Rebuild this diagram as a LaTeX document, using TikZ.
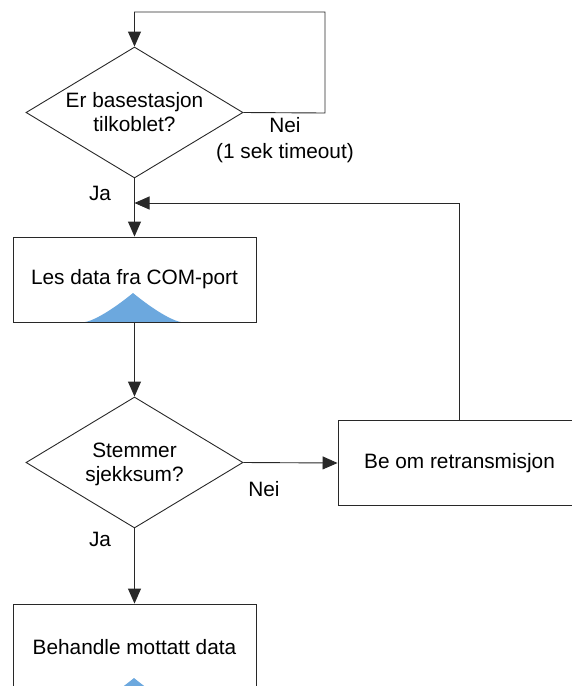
\documentclass[tikz,border=0pt]{standalone}
\usepackage{fontspec}
\setmainfont{Liberation Sans}
\usetikzlibrary{shapes.geometric,arrows.meta}
\definecolor{moundblue}{RGB}{108,168,222}
\definecolor{linegray}{RGB}{40,40,40}
\begin{document}
\begin{tikzpicture}[x=1pt,y=-1pt,
  flow/.style={draw=linegray, line width=0.9pt},
  arr/.style={flow,-{Triangle[length=15pt,width=13pt]}},
  decision/.style={draw=linegray, line width=0.9pt, shape=diamond, aspect=1.66,
    minimum width=217pt, minimum height=131pt, inner sep=0pt},
  stepbox/.style={draw=linegray, line width=0.9pt, rectangle,
    minimum width=243pt, minimum height=85pt, inner sep=0pt},
  txt/.style={font=\fontsize{20.8}{24}\selectfont, align=center, inner sep=0pt},
  lbl/.style={font=\fontsize{20.8}{26}\selectfont, align=center, inner sep=0pt},
  mound/.style={fill=moundblue, draw=none}
]
\useasboundingbox (0,0) rectangle (571,686);

% blue mounds behind the boxes
\fill[mound] plot[domain=-48:48, samples=49] ({133+\x},{322-29*(1-abs(\x)/48)^1.35}) -- cycle;
\fill[mound] plot[domain=-48:48, samples=49] ({134+\x},{707-29*(1-abs(\x)/48)^1.35}) -- cycle;

% shapes
\node[decision] (d1) at (134.5,112.5) {};
\node[txt] (d1t) at (134.5,112) {Er basestasjon\\tilkoblet?};

\node[stepbox] (b1) at (134.5,279.5) {};
\node[txt] (b1t) at (134.5,279) {Les data fra COM-port};

\node[decision] (d2) at (134.5,462.5) {};
\node[txt] (d2t) at (134.5,464) {Stemmer\\sjekksum?};

\node[stepbox] (b2) at (459.5,463) {};
\node[txt] (b2t) at (459.5,463) {Be om retransmisjon};

\node[stepbox] (b3) at (134.5,646.5) {};
\node[txt] (b3t) at (134.5,647) {Behandle mottatt data};

% loop corners and merge point
\coordinate (topR) at (325,113);
\coordinate (topRU) at (325,12);
\coordinate (topL) at (134.5,12);
\coordinate (merge) at (134.5,203);
\coordinate (retU) at (459.5,203);

% connectors
\draw[arr] (d1.east) -- (topR) -- (topRU) -- (topL) -- (d1.north);
\draw[arr] (d1.south) -- (b1.north);
\draw[arr] (b2.north) -- (retU) -- (merge);
\draw[arr] (b1.south) -- (d2.north);
\draw[arr] (d2.east) -- (b2.west);
\draw[arr] (d2.south) -- (b3.north);

% branch labels
\node[lbl] (nei1) at (285,140) {Nei\\(1 sek timeout)};
\node[lbl] (ja1) at (100,193) {Ja};
\node[lbl] (nei2) at (264,489) {Nei};
\node[lbl] (ja2) at (100,539) {Ja};
\end{tikzpicture}
\end{document}
